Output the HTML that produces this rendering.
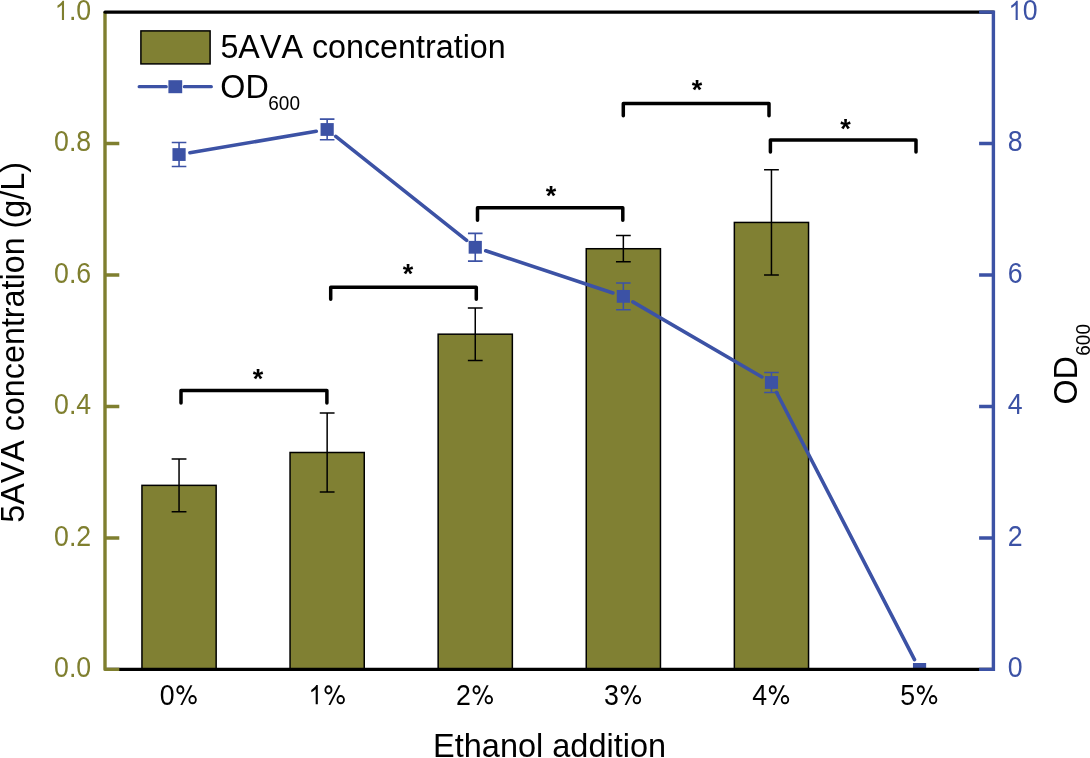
<!DOCTYPE html>
<html><head><meta charset="utf-8"><style>
html,body{margin:0;padding:0;background:#fff;}
svg{display:block;will-change:transform;font-family:"Liberation Sans",sans-serif;font-kerning:none;}
text{font-kerning:none;}
</style></head><body>
<svg width="1090" height="758" viewBox="0 0 1090 758">
<rect x="0" y="0" width="1090" height="758" fill="#fff"/>
<rect x="141.95" y="485.36" width="74.2" height="184.04" fill="#808033" stroke="#000" stroke-width="1.5"/>
<rect x="290.05" y="452.49" width="74.2" height="216.91" fill="#808033" stroke="#000" stroke-width="1.5"/>
<rect x="438.15" y="334.18" width="74.2" height="335.22" fill="#808033" stroke="#000" stroke-width="1.5"/>
<rect x="586.25" y="248.73" width="74.2" height="420.67" fill="#808033" stroke="#000" stroke-width="1.5"/>
<rect x="734.35" y="222.44" width="74.2" height="446.96" fill="#808033" stroke="#000" stroke-width="1.5"/>
<path d="M179.05 459.06V511.65M171.65 459.06H186.45M171.65 511.65H186.45" stroke="#000" stroke-width="1.5" fill="none"/>
<path d="M327.15 413.05V491.93M319.75 413.05H334.55M319.75 491.93H334.55" stroke="#000" stroke-width="1.5" fill="none"/>
<path d="M475.25 307.88V360.47M467.85 307.88H482.65M467.85 360.47H482.65" stroke="#000" stroke-width="1.5" fill="none"/>
<path d="M623.35 235.58V261.87M615.95 235.58H630.75M615.95 261.87H630.75" stroke="#000" stroke-width="1.5" fill="none"/>
<path d="M771.45 169.85V275.02M764.05 169.85H778.85M764.05 275.02H778.85" stroke="#000" stroke-width="1.5" fill="none"/>
<clipPath id="pc"><rect x="105.0" y="12.1" width="888.4" height="657.3"/></clipPath><g clip-path="url(#pc)">
<path d="M189.90 152.70L316.30 131.33M335.76 136.34L466.64 240.43M485.69 250.74L612.91 292.92M632.86 301.91L761.94 376.96M776.50 392.26L914.50 659.63" stroke="#3c52a5" stroke-width="3.6" fill="none" stroke-linecap="round"/>
<path d="M179.05 142.57V166.50M171.75 142.57H186.35M171.75 166.50H186.35" stroke="#3c52a5" stroke-width="1.6" fill="none"/>
<rect x="172.45" y="148.14" width="13.2" height="12.8" fill="#3c52a5"/>
<path d="M327.15 119.17V139.81M319.85 119.17H334.45M319.85 139.81H334.45" stroke="#3c52a5" stroke-width="1.6" fill="none"/>
<rect x="320.55" y="123.09" width="13.2" height="12.8" fill="#3c52a5"/>
<path d="M475.25 233.41V261.15M467.95 233.41H482.55M467.95 261.15H482.55" stroke="#3c52a5" stroke-width="1.6" fill="none"/>
<rect x="468.65" y="240.88" width="13.2" height="12.8" fill="#3c52a5"/>
<path d="M623.35 283.04V309.73M616.05 283.04H630.65M616.05 309.73H630.65" stroke="#3c52a5" stroke-width="1.6" fill="none"/>
<rect x="616.75" y="289.98" width="13.2" height="12.8" fill="#3c52a5"/>
<path d="M771.45 372.43V392.55M764.15 372.43H778.75M764.15 392.55H778.75" stroke="#3c52a5" stroke-width="1.6" fill="none"/>
<rect x="764.85" y="376.09" width="13.2" height="12.8" fill="#3c52a5"/>
<rect x="912.95" y="663.00" width="13.2" height="12.8" fill="#3c52a5"/>
</g>
<path d="M181.0 403.1V390.4H326.9V403.1" stroke="#000" stroke-width="3.5" fill="none" stroke-linejoin="round" stroke-linecap="round"/>
<text x="258.0" y="387.9" font-size="27" font-weight="bold" text-anchor="middle">*</text>
<path d="M330.7 299.2V287.3H476.3V299.2" stroke="#000" stroke-width="3.5" fill="none" stroke-linejoin="round" stroke-linecap="round"/>
<text x="408.0" y="283.1" font-size="27" font-weight="bold" text-anchor="middle">*</text>
<path d="M477.5 220.2V207.8H622.8V220.2" stroke="#000" stroke-width="3.5" fill="none" stroke-linejoin="round" stroke-linecap="round"/>
<text x="551.0" y="204.8" font-size="27" font-weight="bold" text-anchor="middle">*</text>
<path d="M623.3 115.8V103.4H769.0V115.8" stroke="#000" stroke-width="3.5" fill="none" stroke-linejoin="round" stroke-linecap="round"/>
<text x="697.0" y="98.7" font-size="27" font-weight="bold" text-anchor="middle">*</text>
<path d="M770.4 151.9V139.9H916.0V151.9" stroke="#000" stroke-width="3.5" fill="none" stroke-linejoin="round" stroke-linecap="round"/>
<text x="845.4" y="137.9" font-size="27" font-weight="bold" text-anchor="middle">*</text>
<path d="M105.0 669.4H993.4" stroke="#000" stroke-width="3.4" fill="none"/>
<path d="M105.0 12.1V669.4H119.3" stroke="#7f7f2f" stroke-width="3.4" fill="none" stroke-linecap="butt" stroke-linejoin="round"/>
<path d="M105.0 537.94H119.3M105.0 406.48H119.3M105.0 275.02H119.3M105.0 143.56H119.3" stroke="#7f7f2f" stroke-width="3.4" fill="none"/>
<path d="M105.0 12.1H993.4" stroke="#000" stroke-width="3.4" fill="none" stroke-linecap="round"/>
<path d="M979.1 12.1H993.4V669.4H979.1" stroke="#3c52a5" stroke-width="3.4" fill="none" stroke-linejoin="miter"/>
<path d="M993.4 537.94H979.1M993.4 406.48H979.1M993.4 275.02H979.1M993.4 143.56H979.1" stroke="#3c52a5" stroke-width="3.4" fill="none"/>
<text transform="translate(54.08 677.20) scale(1 1.07)" font-size="26.7" fill="#7f7f2f">0.0</text>
<text transform="translate(54.08 545.74) scale(1 1.07)" font-size="26.7" fill="#7f7f2f">0.2</text>
<text transform="translate(54.08 414.28) scale(1 1.07)" font-size="26.7" fill="#7f7f2f">0.4</text>
<text transform="translate(54.08 282.82) scale(1 1.07)" font-size="26.7" fill="#7f7f2f">0.6</text>
<text transform="translate(54.08 151.36) scale(1 1.07)" font-size="26.7" fill="#7f7f2f">0.8</text>
<path transform="translate(54.08 19.90) scale(0.01304 -0.01304)" d="M763 0L600 0L600 1147C552 1104 496 1061 430 1018C364 975 310 943 262 921L262 1095C350 1144 420 1203 496 1273C568 1343 620 1409 650 1472L763 1472Z" fill="#7f7f2f"/><text transform="translate(68.93 19.90) scale(1 1.07)" font-size="26.7" fill="#7f7f2f">.0</text>
<text transform="translate(1007.80 677.20) scale(1 1.07)" font-size="26.7" fill="#3c52a5">0</text>
<text transform="translate(1007.80 545.74) scale(1 1.07)" font-size="26.7" fill="#3c52a5">2</text>
<text transform="translate(1007.80 414.28) scale(1 1.07)" font-size="26.7" fill="#3c52a5">4</text>
<text transform="translate(1007.80 282.82) scale(1 1.07)" font-size="26.7" fill="#3c52a5">6</text>
<text transform="translate(1007.80 151.36) scale(1 1.07)" font-size="26.7" fill="#3c52a5">8</text>
<path transform="translate(1007.80 19.90) scale(0.01304 -0.01304)" d="M763 0L600 0L600 1147C552 1104 496 1061 430 1018C364 975 310 943 262 921L262 1095C350 1144 420 1203 496 1273C568 1343 620 1409 650 1472L763 1472Z" fill="#3c52a5"/><text transform="translate(1022.65 19.90) scale(1 1.07)" font-size="26.7" fill="#3c52a5">0</text>
<text transform="translate(159.76 704.90) scale(1 1.07)" font-size="26.7" fill="#000">0</text><g transform="translate(174.60 704.90) scale(0.01304 -0.01395)" fill="none" stroke="#000" stroke-width="140"><ellipse cx="441" cy="1077" rx="236" ry="260"/><ellipse cx="1381" cy="376" rx="250" ry="259"/><path d="M1212 1400L1366 1400L590 -12L440 -12Z" fill="#000" stroke="none"/></g>
<path transform="translate(307.86 704.20) scale(0.01304 -0.01304)" d="M763 0L600 0L600 1147C552 1104 496 1061 430 1018C364 975 310 943 262 921L262 1095C350 1144 420 1203 496 1273C568 1343 620 1409 650 1472L763 1472Z" fill="#000"/><g transform="translate(322.70 704.90) scale(0.01304 -0.01395)" fill="none" stroke="#000" stroke-width="140"><ellipse cx="441" cy="1077" rx="236" ry="260"/><ellipse cx="1381" cy="376" rx="250" ry="259"/><path d="M1212 1400L1366 1400L590 -12L440 -12Z" fill="#000" stroke="none"/></g>
<text transform="translate(455.96 704.90) scale(1 1.07)" font-size="26.7" fill="#000">2</text><g transform="translate(470.80 704.90) scale(0.01304 -0.01395)" fill="none" stroke="#000" stroke-width="140"><ellipse cx="441" cy="1077" rx="236" ry="260"/><ellipse cx="1381" cy="376" rx="250" ry="259"/><path d="M1212 1400L1366 1400L590 -12L440 -12Z" fill="#000" stroke="none"/></g>
<text transform="translate(604.06 704.90) scale(1 1.07)" font-size="26.7" fill="#000">3</text><g transform="translate(618.90 704.90) scale(0.01304 -0.01395)" fill="none" stroke="#000" stroke-width="140"><ellipse cx="441" cy="1077" rx="236" ry="260"/><ellipse cx="1381" cy="376" rx="250" ry="259"/><path d="M1212 1400L1366 1400L590 -12L440 -12Z" fill="#000" stroke="none"/></g>
<text transform="translate(752.16 704.90) scale(1 1.07)" font-size="26.7" fill="#000">4</text><g transform="translate(767.00 704.90) scale(0.01304 -0.01395)" fill="none" stroke="#000" stroke-width="140"><ellipse cx="441" cy="1077" rx="236" ry="260"/><ellipse cx="1381" cy="376" rx="250" ry="259"/><path d="M1212 1400L1366 1400L590 -12L440 -12Z" fill="#000" stroke="none"/></g>
<text transform="translate(900.26 704.90) scale(1 1.07)" font-size="26.7" fill="#000">5</text><g transform="translate(915.10 704.90) scale(0.01304 -0.01395)" fill="none" stroke="#000" stroke-width="140"><ellipse cx="441" cy="1077" rx="236" ry="260"/><ellipse cx="1381" cy="376" rx="250" ry="259"/><path d="M1212 1400L1366 1400L590 -12L440 -12Z" fill="#000" stroke="none"/></g>
<text transform="translate(549.60 757.10) scale(1 1.02)" font-size="32.5" text-anchor="middle">Ethanol addition</text>
<text transform="translate(24.40 342.40) rotate(-90) scale(1 1.045)" font-size="32.3" text-anchor="middle">5AVA concentration (g/L)</text>
<text transform="translate(1077.40 404.50) rotate(-90) scale(1 1.045)" font-size="32.3">OD</text>
<text transform="translate(1089.60 355.70) rotate(-90) scale(1 1.045)" font-size="19">600</text>
<rect x="140.9" y="30.9" width="69.2" height="33" fill="#808033" stroke="#000" stroke-width="1.5"/>
<text transform="translate(220.40 57.80) scale(1 1.045)" font-size="32.3">5AVA concentration</text>
<path d="M139.2 86.7H166.2M184.4 86.7H211.3" stroke="#3c52a5" stroke-width="3.3" stroke-linecap="round"/>
<rect x="168.4" y="80.2" width="13.8" height="13" fill="#3c52a5"/>
<text transform="translate(220.30 97.90) scale(1 1.045)" font-size="32.3">OD</text>
<text transform="translate(268.30 110.40) scale(1 1.045)" font-size="19">600</text>
</svg>
</body></html>
